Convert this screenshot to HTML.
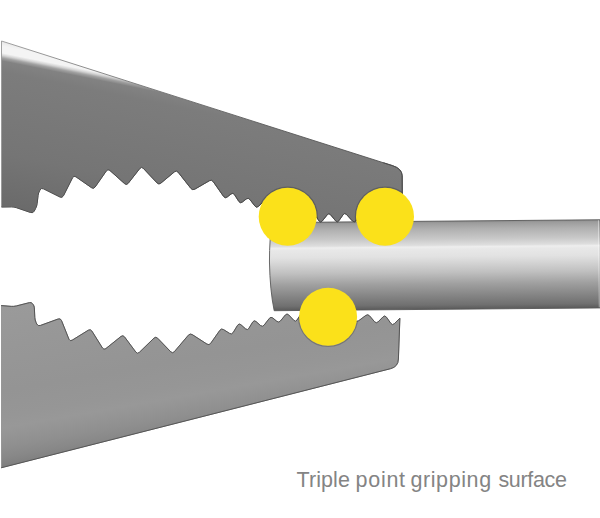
<!DOCTYPE html>
<html><head><meta charset="utf-8"><title>Triple point gripping surface</title>
<style>
html,body{margin:0;padding:0;background:#fff;}
body{width:600px;height:518px;overflow:hidden;position:relative;font-family:"Liberation Sans",sans-serif;}
svg{position:absolute;left:0;top:0;display:block;}
.cap{position:absolute;left:0;top:466px;width:600px;height:28px;font-size:21.5px;line-height:28px;color:#848484;white-space:nowrap;}
.cap span{position:absolute;top:0;}
</style></head><body>
<svg width="600" height="518" viewBox="0 0 600 518">
<defs>
<linearGradient id="gu" gradientUnits="userSpaceOnUse" x1="1.50" y1="41.00" x2="-37.72" y2="237.12">
<stop offset="0.0000" stop-color="#e6e6e6"/>
<stop offset="0.0250" stop-color="#f4f4f4"/>
<stop offset="0.0580" stop-color="#f4f4f4"/>
<stop offset="0.0700" stop-color="#d4d4d4"/>
<stop offset="0.0820" stop-color="#a2a2a2"/>
<stop offset="0.0970" stop-color="#828282"/>
<stop offset="0.1500" stop-color="#7c7c7c"/>
<stop offset="0.5500" stop-color="#757575"/>
<stop offset="0.8900" stop-color="#676767"/>
</linearGradient>
<linearGradient id="gl" gradientUnits="userSpaceOnUse" x1="1.50" y1="467.70" x2="-27.97" y2="300.27">
<stop offset="0.0000" stop-color="#7c7c7c"/>
<stop offset="0.0235" stop-color="#828282"/>
<stop offset="0.0588" stop-color="#888888"/>
<stop offset="0.1176" stop-color="#8f8f8f"/>
<stop offset="0.1882" stop-color="#959595"/>
<stop offset="0.2294" stop-color="#989898"/>
<stop offset="0.2941" stop-color="#969696"/>
<stop offset="0.4412" stop-color="#949494"/>
<stop offset="0.7059" stop-color="#979797"/>
<stop offset="1.0000" stop-color="#9b9b9b"/>
</linearGradient>
<linearGradient id="gs" gradientUnits="userSpaceOnUse" x1="0" y1="0" x2="400" y2="0">
<stop offset="0" stop-color="#989898"/>
<stop offset="0.3" stop-color="#787878"/>
<stop offset="0.6" stop-color="#5c5c5c"/>
<stop offset="1" stop-color="#505050"/>
</linearGradient>
<clipPath id="cpu"><path d="M1.5,41 L392.8,165.75 Q401.7,168.6 402.2,175.5 L402.4,214 L402.40,214.00 L392.13,220.80 Q389.96,222.24 388.07,220.44 L382.90,215.51 Q381.01,213.72 379.07,215.45 L373.93,220.05 Q371.99,221.78 370.11,219.98 L364.85,214.96 Q362.97,213.16 361.23,215.09 L355.94,220.94 Q354.20,222.87 352.44,220.96 L346.40,214.39 Q344.64,212.47 343.16,214.60 L338.82,220.82 Q337.34,222.95 335.69,220.94 L330.54,214.68 Q328.89,212.67 327.28,214.71 L322.17,221.14 Q320.56,223.17 319.11,221.02 L313.58,212.78 Q312.13,210.63 310.17,212.34 L305.85,216.14 Q303.90,217.85 302.37,215.75 L297.62,209.23 Q296.09,207.12 294.20,208.91 L289.80,213.09 Q287.91,214.88 286.38,212.77 L281.62,206.23 Q280.09,204.12 278.20,205.91 L273.80,210.09 Q271.91,211.88 270.38,209.77 L265.63,203.24 Q264.10,201.14 262.19,202.90 L258.42,206.39 Q256.51,208.16 254.94,206.09 L249.89,199.46 Q248.32,197.39 246.26,198.98 L242.30,202.05 Q240.24,203.64 238.84,201.45 L234.45,194.54 Q233.06,192.35 231.02,193.97 L227.18,197.03 Q225.14,198.65 223.65,196.52 L213.17,181.53 Q211.68,179.40 209.43,180.70 L194.80,189.18 Q192.55,190.48 190.94,188.44 L178.10,172.16 Q176.49,170.12 174.50,171.79 L160.84,183.17 Q158.85,184.84 157.07,182.94 L143.24,168.25 Q141.46,166.36 139.86,168.41 L128.18,183.35 Q126.58,185.40 124.64,183.66 L109.83,170.41 Q107.89,168.68 106.41,170.81 L95.14,187.02 Q93.65,189.16 91.52,187.67 L75.90,176.78 Q73.77,175.29 72.60,177.61 L63.44,195.80 Q62.27,198.12 59.95,196.97 L43.53,188.81 Q41.28,187.69 40.06,189.89 L39.60,190.72 Q38.38,192.92 38.09,195.41 L37.13,203.50 Q36.83,206.08 35.64,208.39 L34.28,211.04 Q33.10,213.35 30.64,212.51 L16.49,207.66 Q14.03,206.81 11.43,206.85 L1.50,207.00 Z"/></clipPath>
<clipPath id="cpl"><path d="M1.50,305.60 L11.22,306.37 Q13.81,306.58 16.33,305.94 L29.43,302.63 Q31.36,302.14 32.57,303.72 L33.04,304.32 Q34.25,305.90 34.35,307.88 L34.82,317.48 Q34.95,320.07 36.05,322.43 L36.78,324.01 Q37.89,326.36 40.33,325.47 L58.11,319.01 Q60.55,318.12 61.51,320.54 L68.94,339.19 Q69.90,341.60 72.11,340.23 L88.29,330.22 Q90.50,328.86 91.88,331.06 L102.47,348.01 Q103.84,350.21 105.87,348.58 L120.99,336.45 Q123.01,334.82 124.56,336.91 L135.88,352.14 Q137.43,354.23 139.29,352.42 L153.95,338.14 Q155.81,336.33 157.62,338.20 L170.82,351.85 Q172.63,353.72 174.32,351.74 L188.39,335.18 Q190.08,333.20 192.26,334.61 L206.98,344.12 Q209.16,345.53 210.65,343.40 L219.83,330.33 Q221.32,328.20 223.52,329.59 L229.60,333.42 Q231.80,334.81 233.14,332.59 L237.61,325.23 Q238.95,323.01 240.90,324.73 L245.59,328.87 Q247.54,330.59 248.89,328.37 L252.71,322.04 Q254.06,319.81 256.01,321.53 L260.54,325.53 Q262.49,327.25 264.08,325.19 L269.31,318.43 Q270.90,316.37 272.89,318.05 L276.80,321.34 Q278.79,323.01 280.43,321.00 L285.32,315.03 Q286.97,313.01 288.74,314.91 L293.80,320.33 Q295.57,322.23 297.00,320.05 L300.51,314.73 Q301.94,312.56 303.62,314.54 L307.31,318.89 Q308.99,320.87 310.75,318.96 L315.27,314.03 Q317.03,312.11 318.67,314.13 L323.33,319.87 Q324.97,321.89 326.73,319.97 L331.26,315.04 Q333.01,313.13 334.71,315.10 L339.29,320.40 Q340.99,322.37 342.74,320.46 L347.25,315.55 Q349.01,313.63 350.73,315.59 L354.91,320.33 Q356.63,322.28 358.71,320.73 L365.80,315.46 Q367.89,313.91 369.57,315.89 L374.58,321.78 Q376.27,323.76 378.09,321.91 L383.05,316.85 Q384.87,315.00 386.38,317.12 L390.93,323.50 Q392.44,325.62 394.28,323.78 L399.90,318.20 L398.4,359 Q398.2,366.8 390.5,368.7 L1.5,467.7 Z"/></clipPath>
<linearGradient id="gc" x1="0" y1="0" x2="0" y2="1">
<stop offset="0" stop-color="#8c8c8c"/>
<stop offset="0.023" stop-color="#9c9c9c"/>
<stop offset="0.09" stop-color="#b0b0b0"/>
<stop offset="0.2" stop-color="#c8c8c8"/>
<stop offset="0.273" stop-color="#dedede"/>
<stop offset="0.292" stop-color="#eeeeee"/>
<stop offset="0.318" stop-color="#e8e8e8"/>
<stop offset="0.4" stop-color="#e2e2e2"/>
<stop offset="0.45" stop-color="#d9d9d9"/>
<stop offset="0.58" stop-color="#c0c0c0"/>
<stop offset="0.71" stop-color="#a0a0a0"/>
<stop offset="0.843" stop-color="#858585"/>
<stop offset="0.95" stop-color="#707070"/>
<stop offset="1" stop-color="#5a5a5a"/>
</linearGradient>
</defs>
<g transform="rotate(-0.49 270 266)">
<path d="M272.6,222.6 L604,222.6 L604,310.75 L273.8,310.75 Q269.7,290 269.5,262 Q269.6,238 272.6,222.6 Z" fill="url(#gc)" stroke="#5a5a5a" stroke-width="0.9"/>
<rect x="599.4" y="223" width="6" height="87.2" fill="#000" opacity="0.10"/>
<path d="M598.9,223 V310.2" stroke="#fff" stroke-width="0.8" fill="none" opacity="0.55"/>
</g>
<path d="M1.5,41 L392.8,165.75 Q401.7,168.6 402.2,175.5 L402.4,214 L402.40,214.00 L392.13,220.80 Q389.96,222.24 388.07,220.44 L382.90,215.51 Q381.01,213.72 379.07,215.45 L373.93,220.05 Q371.99,221.78 370.11,219.98 L364.85,214.96 Q362.97,213.16 361.23,215.09 L355.94,220.94 Q354.20,222.87 352.44,220.96 L346.40,214.39 Q344.64,212.47 343.16,214.60 L338.82,220.82 Q337.34,222.95 335.69,220.94 L330.54,214.68 Q328.89,212.67 327.28,214.71 L322.17,221.14 Q320.56,223.17 319.11,221.02 L313.58,212.78 Q312.13,210.63 310.17,212.34 L305.85,216.14 Q303.90,217.85 302.37,215.75 L297.62,209.23 Q296.09,207.12 294.20,208.91 L289.80,213.09 Q287.91,214.88 286.38,212.77 L281.62,206.23 Q280.09,204.12 278.20,205.91 L273.80,210.09 Q271.91,211.88 270.38,209.77 L265.63,203.24 Q264.10,201.14 262.19,202.90 L258.42,206.39 Q256.51,208.16 254.94,206.09 L249.89,199.46 Q248.32,197.39 246.26,198.98 L242.30,202.05 Q240.24,203.64 238.84,201.45 L234.45,194.54 Q233.06,192.35 231.02,193.97 L227.18,197.03 Q225.14,198.65 223.65,196.52 L213.17,181.53 Q211.68,179.40 209.43,180.70 L194.80,189.18 Q192.55,190.48 190.94,188.44 L178.10,172.16 Q176.49,170.12 174.50,171.79 L160.84,183.17 Q158.85,184.84 157.07,182.94 L143.24,168.25 Q141.46,166.36 139.86,168.41 L128.18,183.35 Q126.58,185.40 124.64,183.66 L109.83,170.41 Q107.89,168.68 106.41,170.81 L95.14,187.02 Q93.65,189.16 91.52,187.67 L75.90,176.78 Q73.77,175.29 72.60,177.61 L63.44,195.80 Q62.27,198.12 59.95,196.97 L43.53,188.81 Q41.28,187.69 40.06,189.89 L39.60,190.72 Q38.38,192.92 38.09,195.41 L37.13,203.50 Q36.83,206.08 35.64,208.39 L34.28,211.04 Q33.10,213.35 30.64,212.51 L16.49,207.66 Q14.03,206.81 11.43,206.85 L1.50,207.00 Z" fill="url(#gu)" stroke="url(#gs)" stroke-width="0.9" stroke-linejoin="round"/>
<path d="M383.4,162.75 L392.8,165.75 Q401.7,168.6 402.2,175.5 L402.4,214 L402.40,214.00 L392.13,220.80 Q389.96,222.24 388.07,220.44 L382.90,215.51 Q381.01,213.72 379.07,215.45 L373.93,220.05 Q371.99,221.78 370.11,219.98 L364.85,214.96 Q362.97,213.16 361.23,215.09 L355.94,220.94 Q354.20,222.87 352.44,220.96 L346.40,214.39 Q344.64,212.47 343.16,214.60 L338.82,220.82 Q337.34,222.95 335.69,220.94 L330.54,214.68 Q328.89,212.67 327.28,214.71 L322.17,221.14 Q320.56,223.17 319.11,221.02 L313.58,212.78 Q312.13,210.63 310.17,212.34 L305.85,216.14 Q303.90,217.85 302.37,215.75 L297.62,209.23 Q296.09,207.12 294.20,208.91 L289.80,213.09 Q287.91,214.88 286.38,212.77 L281.62,206.23 Q280.09,204.12 278.20,205.91 L273.80,210.09 Q271.91,211.88 270.38,209.77 L265.63,203.24 Q264.10,201.14 262.19,202.90 L258.42,206.39 Q256.51,208.16 254.94,206.09 L249.89,199.46 Q248.32,197.39 246.26,198.98 L242.30,202.05 Q240.24,203.64 238.84,201.45 L234.45,194.54 Q233.06,192.35 231.02,193.97 L227.18,197.03 Q225.14,198.65 223.65,196.52 L213.17,181.53 Q211.68,179.40 209.43,180.70 L194.80,189.18 Q192.55,190.48 190.94,188.44 L178.10,172.16 Q176.49,170.12 174.50,171.79 L160.84,183.17 Q158.85,184.84 157.07,182.94 L143.24,168.25 Q141.46,166.36 139.86,168.41 L128.18,183.35 Q126.58,185.40 124.64,183.66 L109.83,170.41 Q107.89,168.68 106.41,170.81 L95.14,187.02 Q93.65,189.16 91.52,187.67 L75.90,176.78 Q73.77,175.29 72.60,177.61 L63.44,195.80 Q62.27,198.12 59.95,196.97 L43.53,188.81 Q41.28,187.69 40.06,189.89 L39.60,190.72 Q38.38,192.92 38.09,195.41 L37.13,203.50 Q36.83,206.08 35.64,208.39 L34.28,211.04 Q33.10,213.35 30.64,212.51 L16.49,207.66 Q14.03,206.81 11.43,206.85 L1.50,207.00" fill="none" stroke="#4c4c4c" stroke-width="1" stroke-linejoin="round" stroke-linecap="butt"/>
<path d="M1.50,305.60 L11.22,306.37 Q13.81,306.58 16.33,305.94 L29.43,302.63 Q31.36,302.14 32.57,303.72 L33.04,304.32 Q34.25,305.90 34.35,307.88 L34.82,317.48 Q34.95,320.07 36.05,322.43 L36.78,324.01 Q37.89,326.36 40.33,325.47 L58.11,319.01 Q60.55,318.12 61.51,320.54 L68.94,339.19 Q69.90,341.60 72.11,340.23 L88.29,330.22 Q90.50,328.86 91.88,331.06 L102.47,348.01 Q103.84,350.21 105.87,348.58 L120.99,336.45 Q123.01,334.82 124.56,336.91 L135.88,352.14 Q137.43,354.23 139.29,352.42 L153.95,338.14 Q155.81,336.33 157.62,338.20 L170.82,351.85 Q172.63,353.72 174.32,351.74 L188.39,335.18 Q190.08,333.20 192.26,334.61 L206.98,344.12 Q209.16,345.53 210.65,343.40 L219.83,330.33 Q221.32,328.20 223.52,329.59 L229.60,333.42 Q231.80,334.81 233.14,332.59 L237.61,325.23 Q238.95,323.01 240.90,324.73 L245.59,328.87 Q247.54,330.59 248.89,328.37 L252.71,322.04 Q254.06,319.81 256.01,321.53 L260.54,325.53 Q262.49,327.25 264.08,325.19 L269.31,318.43 Q270.90,316.37 272.89,318.05 L276.80,321.34 Q278.79,323.01 280.43,321.00 L285.32,315.03 Q286.97,313.01 288.74,314.91 L293.80,320.33 Q295.57,322.23 297.00,320.05 L300.51,314.73 Q301.94,312.56 303.62,314.54 L307.31,318.89 Q308.99,320.87 310.75,318.96 L315.27,314.03 Q317.03,312.11 318.67,314.13 L323.33,319.87 Q324.97,321.89 326.73,319.97 L331.26,315.04 Q333.01,313.13 334.71,315.10 L339.29,320.40 Q340.99,322.37 342.74,320.46 L347.25,315.55 Q349.01,313.63 350.73,315.59 L354.91,320.33 Q356.63,322.28 358.71,320.73 L365.80,315.46 Q367.89,313.91 369.57,315.89 L374.58,321.78 Q376.27,323.76 378.09,321.91 L383.05,316.85 Q384.87,315.00 386.38,317.12 L390.93,323.50 Q392.44,325.62 394.28,323.78 L399.90,318.20 L398.4,359 Q398.2,366.8 390.5,368.7 L1.5,467.7 Z" fill="url(#gl)" stroke="#8a8a8a" stroke-width="0.8" stroke-linejoin="round"/>
<path d="M1.50,305.60 L11.22,306.37 Q13.81,306.58 16.33,305.94 L29.43,302.63 Q31.36,302.14 32.57,303.72 L33.04,304.32 Q34.25,305.90 34.35,307.88 L34.82,317.48 Q34.95,320.07 36.05,322.43 L36.78,324.01 Q37.89,326.36 40.33,325.47 L58.11,319.01 Q60.55,318.12 61.51,320.54 L68.94,339.19 Q69.90,341.60 72.11,340.23 L88.29,330.22 Q90.50,328.86 91.88,331.06 L102.47,348.01 Q103.84,350.21 105.87,348.58 L120.99,336.45 Q123.01,334.82 124.56,336.91 L135.88,352.14 Q137.43,354.23 139.29,352.42 L153.95,338.14 Q155.81,336.33 157.62,338.20 L170.82,351.85 Q172.63,353.72 174.32,351.74 L188.39,335.18 Q190.08,333.20 192.26,334.61 L206.98,344.12 Q209.16,345.53 210.65,343.40 L219.83,330.33 Q221.32,328.20 223.52,329.59 L229.60,333.42 Q231.80,334.81 233.14,332.59 L237.61,325.23 Q238.95,323.01 240.90,324.73 L245.59,328.87 Q247.54,330.59 248.89,328.37 L252.71,322.04 Q254.06,319.81 256.01,321.53 L260.54,325.53 Q262.49,327.25 264.08,325.19 L269.31,318.43 Q270.90,316.37 272.89,318.05 L276.80,321.34 Q278.79,323.01 280.43,321.00 L285.32,315.03 Q286.97,313.01 288.74,314.91 L293.80,320.33 Q295.57,322.23 297.00,320.05 L300.51,314.73 Q301.94,312.56 303.62,314.54 L307.31,318.89 Q308.99,320.87 310.75,318.96 L315.27,314.03 Q317.03,312.11 318.67,314.13 L323.33,319.87 Q324.97,321.89 326.73,319.97 L331.26,315.04 Q333.01,313.13 334.71,315.10 L339.29,320.40 Q340.99,322.37 342.74,320.46 L347.25,315.55 Q349.01,313.63 350.73,315.59 L354.91,320.33 Q356.63,322.28 358.71,320.73 L365.80,315.46 Q367.89,313.91 369.57,315.89 L374.58,321.78 Q376.27,323.76 378.09,321.91 L383.05,316.85 Q384.87,315.00 386.38,317.12 L390.93,323.50 Q392.44,325.62 394.28,323.78 L399.90,318.20 L398.4,359 Q398.2,366.8 390.5,368.7 L1.5,467.7" fill="none" stroke="#555" stroke-width="1" stroke-linejoin="round" stroke-linecap="round"/>
<g fill="none" stroke="#000" stroke-opacity="0.2" stroke-width="1.4">
<circle cx="287.7" cy="216.7" r="29.5" clip-path="url(#cpu)"/>
<circle cx="385" cy="216.7" r="29.5" clip-path="url(#cpu)"/>
<circle cx="328.1" cy="316.8" r="29.5" clip-path="url(#cpl)"/>
</g>
<circle cx="287.7" cy="216.7" r="29" fill="#fbe11a"/>
<circle cx="385" cy="216.7" r="29" fill="#fbe11a"/>
<circle cx="328.1" cy="316.8" r="29" fill="#fbe11a"/>
</svg>
<div class="cap"><span style="left:296.6px;letter-spacing:0.06px">Triple </span><span style="left:355.6px;letter-spacing:0.7px">point </span><span style="left:410.4px;letter-spacing:0.6px">gripping </span><span style="left:498.4px;letter-spacing:-0.33px">surface</span></div>
</body></html>
